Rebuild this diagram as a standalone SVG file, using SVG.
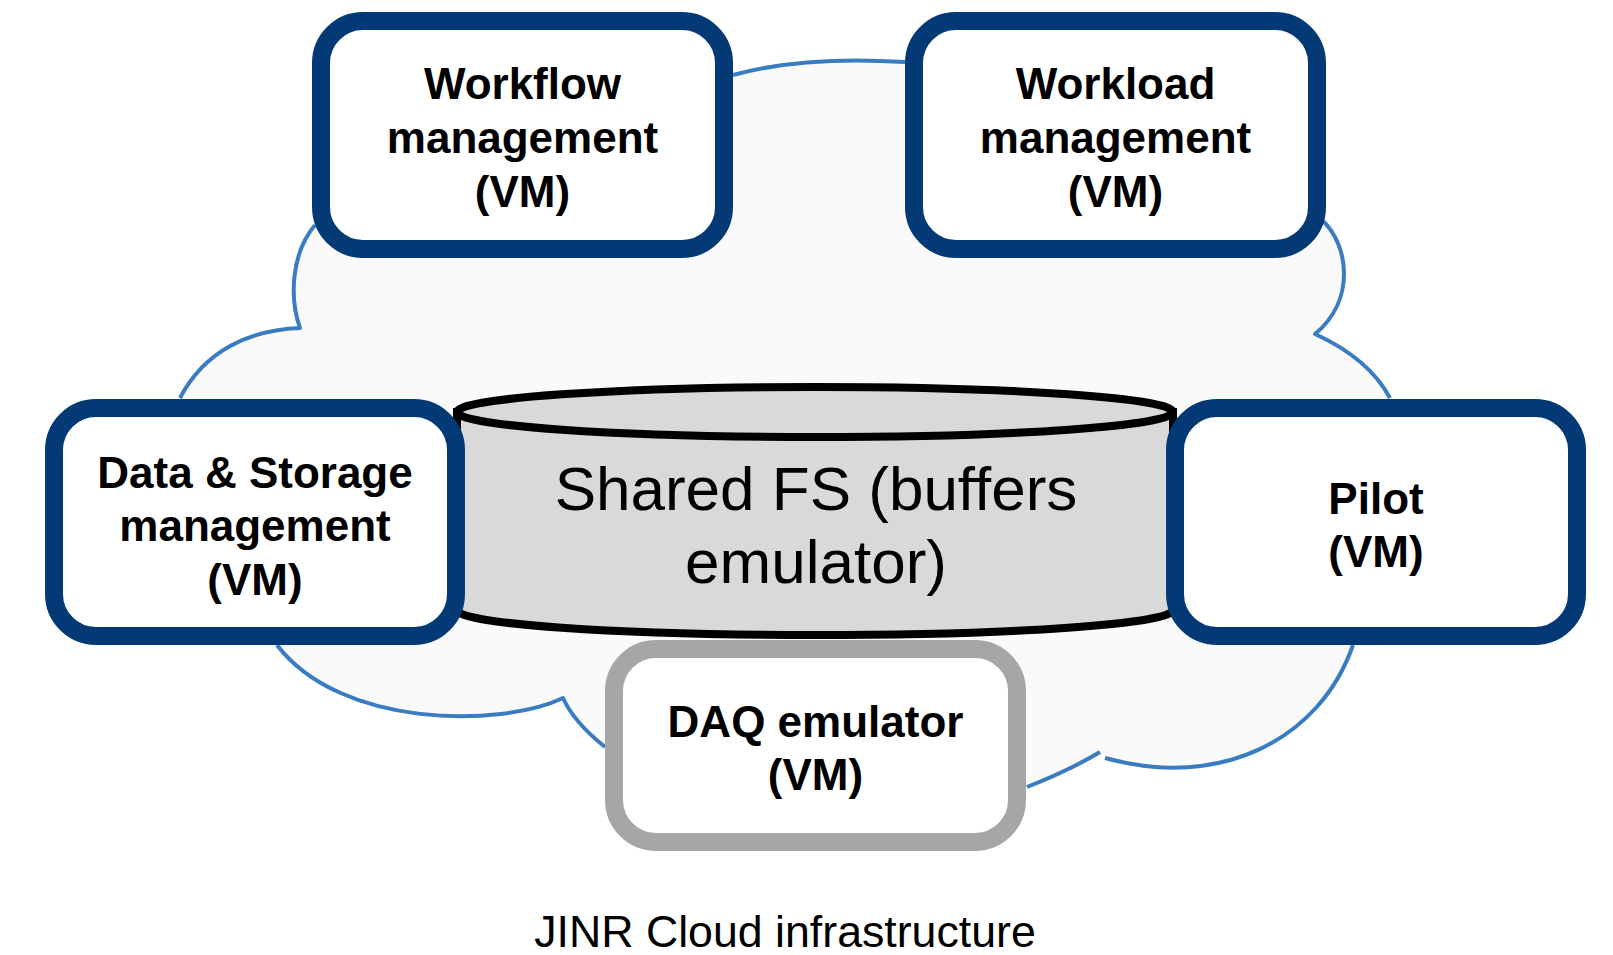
<svg xmlns="http://www.w3.org/2000/svg" width="1613" height="955" viewBox="0 0 1613 955">
<style>
.vm{fill:#ffffff;stroke:#033974;stroke-width:18}
.daq{fill:#ffffff;stroke:#a6a6a6;stroke-width:18}
.lbl{font-family:"Liberation Sans",Arial,Helvetica,sans-serif;font-weight:bold;font-size:44px;fill:#000000;text-anchor:middle}
.fs{font-family:"Liberation Sans",Arial,Helvetica,sans-serif;font-size:62px;fill:#000000;text-anchor:middle}
.cap{font-family:"Liberation Sans",Arial,Helvetica,sans-serif;font-size:44.7px;fill:#000000;text-anchor:middle}
.cloudline{fill:none;stroke:#3a7cc2;stroke-width:4;stroke-linejoin:round}
</style>
<rect x="0" y="0" width="1613" height="955" fill="#ffffff"/>
<g id="cloud">
<path fill="#fafafa" stroke="none" d="M 733,75 C 780,62 840,58 905,62 L 1322,220 C 1349,245 1356,300 1315,334 C 1350,350 1375,370 1390,398 L 1353,645 C 1320,740 1220,790 1102,755 C 1075,767 1050,778 1027,787 L 605,747 C 590,735 572,718 563,698 C 500,728 340,728 277,645 L 180,398 C 205,350 250,330 300,328 C 290,300 290,255 315,225 Z"/>
<path class="cloudline" d="M 733,75 C 780,62 840,58 905,62"/>
<path class="cloudline" d="M 1322,220 C 1349,245 1356,300 1315,334 C 1350,350 1375,370 1390,398"/>
<path class="cloudline" d="M 1353,645 C 1320,740 1220,790 1105,758"/>
<path class="cloudline" d="M 1100,752 C 1075,767 1050,778 1027,787"/>
<path class="cloudline" d="M 605,747 C 590,735 572,718 563,698 C 500,728 340,728 277,645"/>
<path class="cloudline" d="M 180,398 C 205,350 250,330 300,328 C 290,300 290,255 315,225"/>
</g>
<g id="shared-fs">
<path d="M 457,412 L 457,610 A 358,25 0 0 0 1173,610 L 1173,412 Z" fill="#d9d9d9" stroke="#000000" stroke-width="8"/>
<ellipse cx="815" cy="412" rx="358" ry="25" fill="#d9d9d9" stroke="#000000" stroke-width="8"/>
<text class="fs" x="816" y="510">Shared FS (buffers</text>
<text class="fs" x="816" y="583">emulator)</text>
</g>
<g id="workflow">
<rect class="vm" x="321" y="21" width="403" height="228" rx="42" ry="42"/>
<text class="lbl" x="522.5" y="99">Workflow</text>
<text class="lbl" x="522.5" y="153">management</text>
<text class="lbl" x="522.5" y="207">(VM)</text>
</g>
<g id="workload">
<rect class="vm" x="914" y="21" width="403" height="228" rx="42" ry="42"/>
<text class="lbl" x="1115.5" y="99">Workload</text>
<text class="lbl" x="1115.5" y="153">management</text>
<text class="lbl" x="1115.5" y="207">(VM)</text>
</g>
<g id="data-storage">
<rect class="vm" x="54" y="408" width="402" height="228" rx="42" ry="42"/>
<text class="lbl" x="255" y="488">Data &amp; Storage</text>
<text class="lbl" x="255" y="541">management</text>
<text class="lbl" x="255" y="595">(VM)</text>
</g>
<g id="pilot">
<rect class="vm" x="1175" y="408" width="402" height="228" rx="42" ry="42"/>
<text class="lbl" x="1376" y="514">Pilot</text>
<text class="lbl" x="1376" y="567">(VM)</text>
</g>
<g id="daq">
<rect class="daq" x="614" y="649" width="403" height="193" rx="42" ry="42"/>
<text class="lbl" x="815.5" y="737">DAQ emulator</text>
<text class="lbl" x="815.5" y="790">(VM)</text>
</g>
<g id="connectors"></g>
<text class="cap" x="785" y="947">JINR Cloud infrastructure</text>
</svg>
